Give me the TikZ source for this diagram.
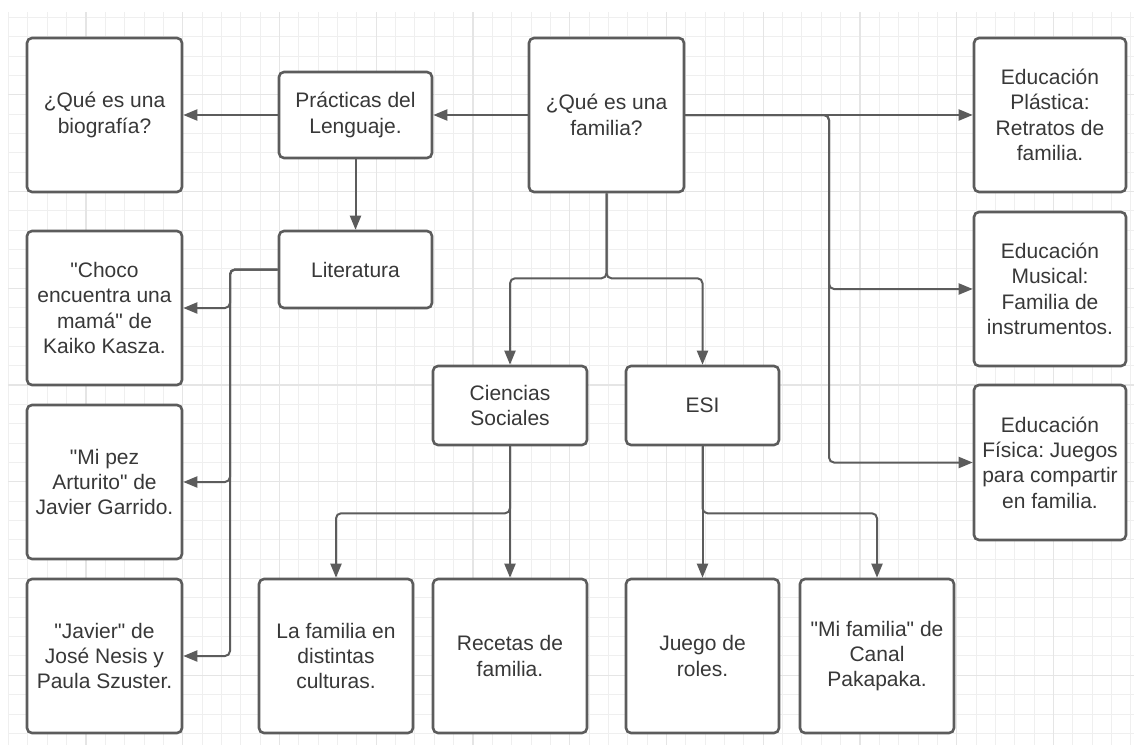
\documentclass[tikz,border=0pt]{standalone}
\usepackage{fontspec}
\setmainfont{Liberation Sans}
\usetikzlibrary{arrows.meta}
\definecolor{linecol}{HTML}{5C5C5C}
\definecolor{txtcol}{HTML}{383838}
\definecolor{gridminor}{HTML}{EFEFEF}
\definecolor{gridmajor}{HTML}{E5E5E5}
\newcommand{\qq}{\textquotedbl}
\frenchspacing
\tikzset{
  box/.style={draw=linecol, line width=2.6pt, rounded corners=5pt, fill=white,
    text=txtcol, align=center, inner sep=0pt,
    font=\fontsize{21}{25.3}\selectfont},
  conn/.style={draw=linecol, line width=2pt, rounded corners=5pt,
    -{Triangle[length=14pt,width=11pt]}},
  gminor/.style={draw=gridminor, line width=1pt},
  gmajor/.style={draw=gridmajor, line width=1.2pt}
}
\begin{document}
\begin{tikzpicture}[x=1pt,y=-1pt]
\useasboundingbox[fill=white] (0,0) rectangle (1134,745);
% grid
\foreach \k in {0,...,58} \draw[gminor] ({8.6+19.35*\k},12) -- ({8.6+19.35*\k},745);
\foreach \k in {0,...,37} \draw[gminor] (8,{17.4+19.35*\k}) -- (1134,{17.4+19.35*\k});
\foreach \k in {4,9,...,54} \draw[gmajor] ({8.6+19.35*\k},12) -- ({8.6+19.35*\k},745);
\foreach \k in {4,9,...,34} \draw[gmajor] (8,{17.4+19.35*\k}) -- (1134,{17.4+19.35*\k});
% nodes
\node[box, minimum width=155pt, minimum height=154pt] (bio) at (104.5,115) {¿Qué es una\\biografía?};
\node[box, minimum width=153pt, minimum height=86pt] (prac) at (355.5,115) {Prácticas del\\Lenguaje.};
\node[box, minimum width=155pt, minimum height=154pt] (fam) at (606.5,115) {¿Qué es una\\familia?};
\node[box, minimum width=152pt, minimum height=154pt] (plas) at (1050,115) {Educación\\Plástica:\\Retratos de\\familia.};
\node[box, minimum width=153pt, minimum height=77pt] (lit) at (355.5,269.5) {Literatura};
\node[box, minimum width=155pt, minimum height=154pt] (choco) at (104.5,308) {\qq Choco\\encuentra una\\mamá\qq{} de\\Kaiko Kasza.};
\node[box, minimum width=152pt, minimum height=154pt] (mus) at (1050,289) {Educación\\Musical:\\Familia de\\instrumentos.};
\node[box, minimum width=155pt, minimum height=154pt] (pez) at (104.5,482) {\qq Mi pez\\Arturito\qq{} de\\Javier Garrido.};
\node[box, minimum width=154pt, minimum height=79pt] (cs) at (510,405.5) {Ciencias\\Sociales};
\node[box, minimum width=153pt, minimum height=79pt] (esi) at (702.5,405.5) {ESI};
\node[box, minimum width=152pt, minimum height=155pt] (fis) at (1050,462.5) {Educación\\Física: Juegos\\para compartir\\en familia.};
\node[box, minimum width=155pt, minimum height=154pt] (jav) at (104.5,656) {\qq Javier\qq{} de\\José Nesis y\\Paula Szuster.};
\node[box, minimum width=154pt, minimum height=154pt] (lafam) at (336,656) {La familia en\\distintas\\culturas.};
\node[box, minimum width=154pt, minimum height=154pt] (rec) at (510,656) {Recetas de\\familia.};
\node[box, minimum width=153pt, minimum height=154pt] (jue) at (702.5,656) {Juego de\\roles.};
\node[box, minimum width=154pt, minimum height=154pt] (mif) at (877,656) {\qq Mi familia\qq{} de\\Canal\\Pakapaka.};
% junction coordinates
\coordinate (jr) at (829,115);
\coordinate (lj) at (230,269.5);
% connectors
\draw[conn] (prac.west) -- (bio.east);
\draw[conn] (fam.west) -- (prac.east);
\draw[conn] (prac.south) -- (lit.north);
\draw[conn] (fam.east) -- (plas.west);
\draw[conn] (fam.east) -- (jr) |- (mus.west);
\draw[conn] (fam.east) -- (jr) |- (fis.west);
\draw[conn] (fam.south) -- ++(0,85) -| (cs.north);
\draw[conn] (fam.south) -- ++(0,85) -| (esi.north);
\draw[conn] (lit.west) -- (lj) |- (choco.east);
\draw[conn] (lit.west) -- (lj) |- (pez.east);
\draw[conn] (lit.west) -- (lj) |- (jav.east);
\draw[conn] (cs.south) -- ++(0,67) -| (lafam.north);
\draw[conn] (cs.south) -- (rec.north);
\draw[conn] (esi.south) -- (jue.north);
\draw[conn] (esi.south) -- ++(0,67) -| (mif.north);
\end{tikzpicture}
\end{document}
